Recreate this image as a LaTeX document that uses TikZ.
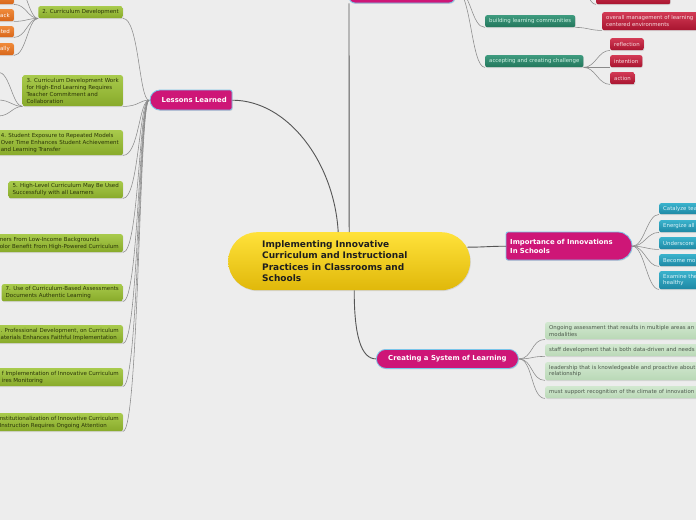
\documentclass[tikz,border=0pt]{standalone}
\usepackage{fontspec}
\setmainfont{DejaVu Sans}
\usetikzlibrary{shadows}
\definecolor{bg}{HTML}{EDEDED}
\definecolor{ytop}{HTML}{FFE23A}
\definecolor{ybot}{HTML}{E0B80A}
\definecolor{ytext}{HTML}{1E1E1E}
\definecolor{mag}{HTML}{CE1677}
\definecolor{magb}{HTML}{79C5EA}
\definecolor{gtop}{HTML}{A8CA4C}
\definecolor{gbot}{HTML}{88AA2A}
\definecolor{gtext}{HTML}{2A3408}
\definecolor{otop}{HTML}{F08A3A}
\definecolor{obot}{HTML}{D8661A}
\definecolor{ttop}{HTML}{3E9A7E}
\definecolor{tbot}{HTML}{23775C}
\definecolor{ttext}{HTML}{CFEFE2}
\definecolor{rtop}{HTML}{D23A55}
\definecolor{rbot}{HTML}{A8142F}
\definecolor{rtext}{HTML}{F8DCE0}
\definecolor{btop}{HTML}{3AB2CC}
\definecolor{bbot}{HTML}{1E88A4}
\definecolor{btext}{HTML}{DDF4FA}
\definecolor{ltop}{HTML}{D2E8D0}
\definecolor{lbot}{HTML}{B9D8B6}
\definecolor{ltext}{HTML}{4D5A4D}
\definecolor{cgray}{HTML}{8A8A8A}
\definecolor{cdark}{HTML}{555555}
\tikzset{
  shad/.style={drop shadow={opacity=0.22,shadow xshift=0.6pt,shadow yshift=-0.9pt}},
  box/.style={inner xsep=4pt, inner ysep=0pt, rounded corners=2pt, shad, align=left},
  gbox/.style={box, anchor=north east, top color=gtop, bottom color=gbot, text=gtext, font=\fontsize{5.5}{7}\selectfont},
  obox/.style={box, anchor=north east, top color=otop, bottom color=obot, text=white, font=\fontsize{5.5}{7}\selectfont},
  small/.style={box, anchor=north west, font=\fontsize{5.4}{6.6}\selectfont},
  tbox/.style={small, top color=ttop, bottom color=tbot, text=ttext},
  rbox/.style={small, top color=rtop, bottom color=rbot, text=rtext},
  bbox/.style={small, top color=btop, bottom color=bbot, text=btext},
  lbox/.style={small, top color=ltop, bottom color=lbot, text=ltext},
  magshape/.style={fill=mag, draw=magb, line width=0.8pt, shad},
  major/.style={text=white, font=\bfseries\fontsize{6.9}{8.5}\selectfont},
  conn/.style={draw=cgray, line width=0.55pt},
  mainconn/.style={draw=cdark, line width=0.9pt},
}
\begin{document}
\begin{tikzpicture}[x=1pt,y=-1pt]
\useasboundingbox (0,0) rectangle (696,520);
\clip (0,0) rectangle (696,520);
\fill[bg] (0,0) rectangle (696,520);

% ---------- central ----------
\node[anchor=north west, minimum width=242pt, minimum height=58pt, rounded corners=29pt,
      top color=ytop, bottom color=ybot, shad, inner xsep=34pt, inner ysep=0pt,
      text width=174pt, align=left, text=ytext, font=\bfseries\fontsize{9}{11.3}\selectfont]
  (central) at (228,232) {Implementing Innovative\\Curriculum and Instructional\\Practices in Classrooms and\\Schools};

% ---------- major topics ----------
\path[magshape] (400,-25) [rounded corners=6pt] -- (455,-25) -- (455,3) -- (349,3) -- (349,-25) -- cycle;
\node[anchor=north west, minimum width=106pt, minimum height=28pt, inner sep=0pt] (top) at (349,-25) {};

\path[magshape] (191,90) [rounded corners=2pt] -- (232,90) -- (232,110) [rounded corners=10pt] -- (150,110) -- (150,90) -- cycle;
\node[major, anchor=north west, minimum width=82pt, minimum height=20pt, inner sep=0pt] (ll) at (150,90) {\hspace*{6pt}Lessons Learned};

\path[magshape] (569,232) [rounded corners=14pt] -- (632,232) -- (632,260) [rounded corners=2pt] -- (506,260) -- (506,232) -- cycle;
\node[major, anchor=north west, minimum width=126pt, minimum height=28pt, inner xsep=4pt, inner ysep=0pt, text width=118pt, align=left] (imp) at (506,232) {Importance of Innovations\\In Schools};

\node[major, anchor=north west, minimum width=142pt, minimum height=19pt, inner sep=0pt, rounded corners=9.5pt, fill=mag, draw=magb, line width=0.8pt, shad] (cs) at (376,349) {Creating a System of Learning};

% ---------- green (lessons learned) ----------
\node[gbox, minimum height=12pt] (g2) at (123,6) {2. Curriculum Development};
\node[gbox, minimum height=31pt] (g3) at (123,75) {3. Curriculum Development Work\\for High-End Learning Requires\\Teacher Commitment and\\Collaboration};
\node[gbox, minimum height=25pt] (g4) at (123,130) {4. Student Exposure to Repeated Models\\Over Time Enhances Student Achievement\\and Learning Transfer};
\node[gbox, minimum height=17pt] (g5) at (123,181) {5. High-Level Curriculum May Be Used\\Successfully with all Learners};
\node[gbox, minimum height=18pt] (g6) at (123,234) {ners From Low-Income Backgrounds\\olor Benefit From High-Powered Curriculum};
\node[gbox, minimum height=17pt] (g7) at (123,284) {7. Use of Curriculum-Based Assessments\\Documents Authentic Learning};
\node[gbox, minimum height=18pt] (g8) at (123,325) {. Professional Development, on Curriculum\\aterials Enhances Faithful Implementation};
\node[gbox, minimum height=18pt] (g9) at (123,368) {f Implementation of Innovative Curriculum\\ires Monitoring};
\node[gbox, minimum height=18pt] (g10) at (123,413) {nstitutionalization of Innovative Curriculum\\Instruction Requires Ongoing Attention};

% ---------- orange (children of 2.) ----------
\node[obox, minimum height=12pt, minimum width=40pt] (o1) at (14,-8) {};
\node[obox, minimum height=12pt, minimum width=40pt, align=right, text width=32pt] (o2) at (14,9) {ack};
\node[obox, minimum height=11pt, minimum width=40pt, align=right, text width=32pt] (o3) at (14,26) {ated};
\node[obox, minimum height=12pt, minimum width=40pt, align=right, text width=32pt] (o4) at (14,43) {ually};

% ---------- teal and red (top) ----------
\node[tbox, minimum height=12pt] (t1) at (485,15) {building learning communities};
\node[tbox, minimum height=12pt] (t2) at (485,55) {accepting and creating challenge};
\node[rbox, minimum height=14pt, minimum width=74pt] (r0) at (596,-10) {};
\node[rbox, minimum height=18pt, text width=100pt] (r1) at (602,12) {overall management of learning\\centered environments};
\node[rbox, minimum height=12pt] (r2) at (610,38) {reflection};
\node[rbox, minimum height=12pt] (r3) at (610,55) {intention};
\node[rbox, minimum height=12pt] (r4) at (610,72) {action};

% ---------- blue (importance) ----------
\node[bbox, minimum height=11pt, text width=60pt] (b1) at (659,203) {Catalyze tea};
\node[bbox, minimum height=12pt, text width=60pt] (b2) at (659,220) {Energize all};
\node[bbox, minimum height=12pt, text width=60pt] (b3) at (659,237) {Underscore};
\node[bbox, minimum height=12pt, text width=60pt] (b4) at (659,254) {Become mo};
\node[bbox, minimum height=18pt, text width=60pt] (b5) at (659,271) {Examine the\\healthy};

% ---------- light green (system of learning) ----------
\node[lbox, minimum height=17pt, text width=200pt] (l1) at (545,322) {Ongoing assessment that results in multiple areas an\\modalities};
\node[lbox, minimum height=12pt, text width=200pt] (l2) at (545,344) {staff development that is both data-driven and needs};
\node[lbox, minimum height=18pt, text width=200pt] (l3) at (545,362) {leadership that is knowledgeable and proactive about\\relationship};
\node[lbox, minimum height=12pt, text width=200pt] (l4) at (545,386) {must support recognition of the climate of innovation};

% ---------- free ends ----------
\coordinate (oa) at (12,-24);
\coordinate (ca) at (-2,72);
\coordinate (cb) at (-2,100);
\coordinate (cc) at (-2,116);
\coordinate (rz) at (580,-14);

% ---------- connectors ----------
\draw[mainconn] (ll.east) .. controls +(55,0) and +(-4,-70) .. ([xshift=-11pt]central.north);
\draw[mainconn] (central.north) -- (top.south west);
\draw[mainconn] ([shift={(-3,-14)}]central.east) .. controls +(15,0) and +(-15,0) .. (imp.west);
\draw[mainconn] ([xshift=5pt]central.south) .. controls +(0,45) and +(-15,0) .. (cs.west);

\foreach \g in {g2,g3,g4,g5,g6,g7,g8,g9,g10}
  \draw[conn] (\g.south east) .. controls +(16,0) and +(-10,0) .. ([xshift=-1pt]ll.west);
\foreach \o in {oa,o1.south east,o2.south east,o3.south east,o4.south east}
  \draw[conn] (\o) .. controls +(12,0) and +(-10,0) .. (g2.south west);
\foreach \c in {ca,cb,cc}
  \draw[conn] (\c) .. controls +(12,0) and +(-10,0) .. (g3.south west);

\foreach \t in {t1,t2}
  \draw[conn] (top.east) .. controls +(16,0) and +(-14,0) .. (\t.south west);
\draw[conn] (rz) .. controls +(8,0) and +(-8,0) .. (r0.south west);
\draw[conn] (t1.south east) .. controls +(12,0) and +(-12,0) .. (r1.south west);
\foreach \r in {r2,r3,r4}
  \draw[conn] (t2.south east) .. controls +(12,0) and +(-12,0) .. (\r.south west);

\foreach \b in {b1,b2,b3,b4,b5}
  \draw[conn] (imp.east) .. controls +(12,0) and +(-12,0) .. (\b.south west);
\foreach \l in {l1,l2,l3,l4}
  \draw[conn] (cs.east) .. controls +(14,0) and +(-14,0) .. (\l.south west);
\end{tikzpicture}
\end{document}
